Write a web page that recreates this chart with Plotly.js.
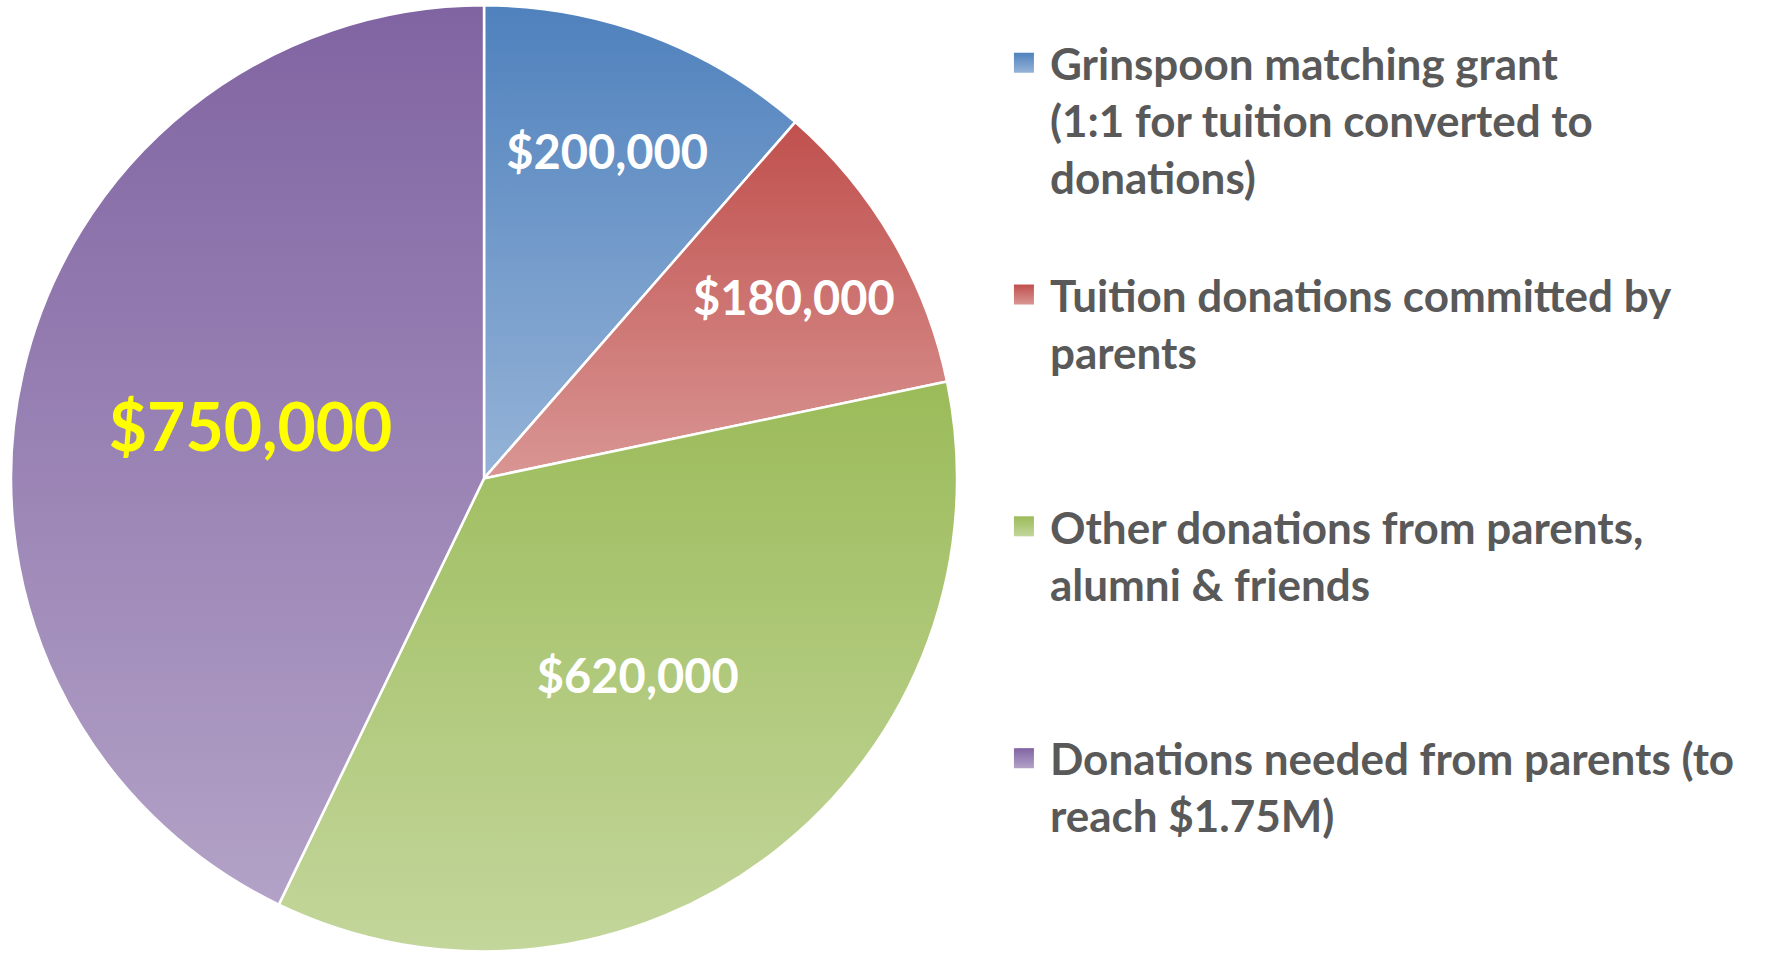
<!DOCTYPE html>
<html><head><meta charset="utf-8">
<script src="https://cdn.plot.ly/plotly-3.0.1.min.js"></script>
<style>html,body{margin:0;padding:0;background:#fff;}#chart{width:1774px;height:953px;}</style>
</head><body><div id="chart"></div>
<svg width="0" height="0" style="position:absolute"><defs id="gdefs"></defs></svg>
<script>
const labels = [
  "Grinspoon matching grant<br>(1:1 for tuition converted to<br>donations)",
  "Tuition donations committed by<br>parents",
  "Other donations from parents,<br>alumni & friends",
  "Donations needed from parents (to<br>reach $1.75M)"
];
const values = [200000, 180000, 620000, 750000];
const colorsTop = ["#4F81BD", "#C0504D", "#9BBB59", "#8064A2"];
const colorsBottom = ["#95B3D7", "#D99694", "#C3D69B", "#B3A2C7"];
const labelColors = ["#FFFFFF", "#FFFFFF", "#FFFFFF", "#FFFF00"];
const labelSizes = [47, 47, 47, 66];

const LEGEND_LINES = 4;
const legendLabels = labels.map((l, idx) => {
  if (idx === labels.length - 1) return l;
  const n = l.split("<br>").length;
  let s = l;
  for (let i = n; i < LEGEND_LINES; i++) s += "<br>\u00A0";
  return s;
});

const trace = {
  type: "pie",
  labels: legendLabels,
  values: values,
  sort: false,
  direction: "clockwise",
  rotation: 0,
  texttemplate: "$%{value:,}",
  textposition: "inside",
  insidetextorientation: "horizontal",
  textfont: {family: "Lato", weight: 700, color: labelColors, size: labelSizes},
  marker: {colors: colorsTop, line: {color: "#FFFFFF", width: 2.5}},
  domain: {x: [0.0062, 0.5395], y: [0.0, 0.996]},
  hoverinfo: "none"
};

const layout = {
  width: 1774, height: 953,
  margin: {l: 0, r: 0, t: 0, b: 0},
  paper_bgcolor: "#FFFFFF",
  showlegend: true,
  legend: {
    x: 0.5693, y: 0.971, xanchor: "left", yanchor: "top",
    valign: "top",
    font: {family: "Lato", weight: 700, size: 44, color: "#595959"}
  }
};

Plotly.newPlot("chart", [trace], layout, {displayModeBar: false, staticPlot: true}).then(() => {
  const defs = document.getElementById("gdefs");
  const ns = "http://www.w3.org/2000/svg";
  colorsTop.forEach((c, i) => {
    const g = document.createElementNS(ns, "linearGradient");
    g.setAttribute("id", "grad" + i);
    g.setAttribute("x1", "0"); g.setAttribute("y1", "0");
    g.setAttribute("x2", "0"); g.setAttribute("y2", "1");
    const s1 = document.createElementNS(ns, "stop");
    s1.setAttribute("offset", "0"); s1.setAttribute("stop-color", c);
    const s2 = document.createElementNS(ns, "stop");
    s2.setAttribute("offset", "1"); s2.setAttribute("stop-color", colorsBottom[i]);
    g.appendChild(s1); g.appendChild(s2);
    defs.appendChild(g);
  });
  document.querySelectorAll("#chart .slice path.surface").forEach((p, i) => {
    p.style.fill = "url(#grad" + i + ")";
  });
  document.querySelectorAll("#chart .legend .traces").forEach((t, i) => {
    t.querySelectorAll(".legendpoints path").forEach(p => {
      p.setAttribute("d", "M4,10H-16V-10H4Z");
      p.style.fill = "url(#grad" + i + ")";
      p.style.strokeWidth = "0";
    });
  });
});
</script>
</body></html>
